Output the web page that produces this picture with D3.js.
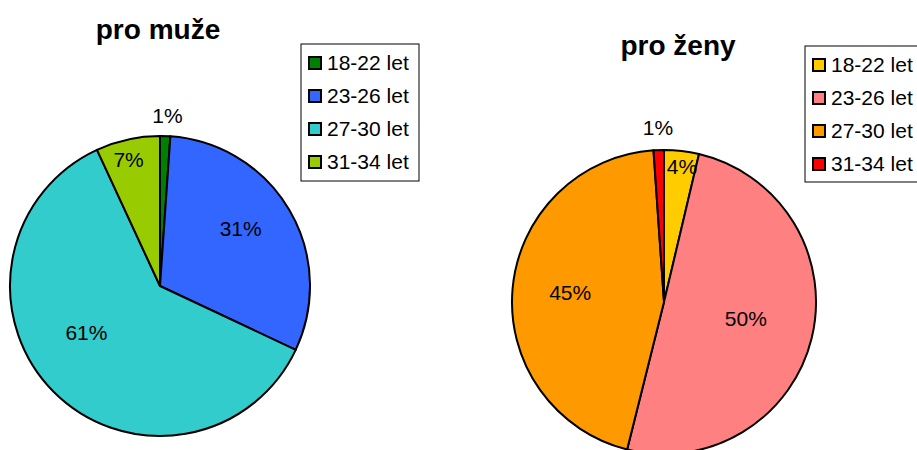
<!DOCTYPE html>
<html>
<head>
<meta charset="utf-8">
<script src="https://cdn.jsdelivr.net/npm/d3@7"></script>
<style>
  body { margin: 0; background: #fff; }
  svg text { font-family: "Liberation Sans", Arial, sans-serif; fill: #000; }
</style>
</head>
<body>
<svg width="917" height="450"></svg>
<script>
// data
const ageGroups = ["18-22 let", "23-26 let", "27-30 let", "31-34 let"];
const menShares = [1.1, 30.9, 61.1, 6.9];
const womenShares = [3.7, 50.2, 45.0, 1.1];
const menColors = ["#008000", "#3366ff", "#33cccc", "#99cc00"];
const womenColors = ["#ffcc00", "#ff8080", "#ff9900", "#ff0000"];

// label placement tweaks: [radius fraction, angle shift in degrees]
const menLabelPlace = [[1.14, 0.5], [0.66, -5], [0.58, 12.6], [0.87, -1.5]];
const womenLabelPlace = [[0.9, 0.9], [0.55, -2], [0.62, 0.5], [1.15, 0]];

const svg = d3.select("svg");

const charts = [
  {title: "pro muže", shares: menShares, colors: menColors, place: menLabelPlace,
   cx: 160, cy: 286, r: 150, titleX: 158, titleY: 39, legX: 301, legY: 44, legW: 118, legH: 137},
  {title: "pro ženy", shares: womenShares, colors: womenColors, place: womenLabelPlace,
   cx: 664, cy: 302, r: 152, titleX: 678, titleY: 55, legX: 805, legY: 46, legW: 122, legH: 136}
];

charts.forEach(function(c) {
  const pie = d3.pie().sort(null).value(function(d) { return d; });
  const arcs = pie(c.shares);
  const arc = d3.arc().innerRadius(0).outerRadius(c.r);

  const g = svg.append("g")
      .attr("transform", `translate(${c.cx},${c.cy})`);

  g.selectAll("path")
    .data(arcs)
    .enter().append("path")
      .attr("d", arc)
      .attr("fill", function(d, i) { return c.colors[i]; })
      .attr("stroke", "#000")
      .attr("stroke-width", 2)
      .attr("stroke-linejoin", "round");

  // percent labels
  g.selectAll("text.pct")
    .data(arcs)
    .enter().append("text")
      .attr("class", "pct")
      .attr("x", function(d, i) {
        const a = (d.startAngle + d.endAngle) / 2 + c.place[i][1] * Math.PI / 180;
        return Math.sin(a) * c.r * c.place[i][0];
      })
      .attr("y", function(d, i) {
        const a = (d.startAngle + d.endAngle) / 2 + c.place[i][1] * Math.PI / 180;
        return -Math.cos(a) * c.r * c.place[i][0];
      })
      .attr("dy", "0.35em")
      .attr("text-anchor", "middle")
      .style("font-size", "21px")
      .text(function(d) { return Math.round(d.data) + "%"; });

  // title
  svg.append("text")
      .attr("x", c.titleX)
      .attr("y", c.titleY)
      .attr("text-anchor", "middle")
      .style("font-size", "28px")
      .style("font-weight", "bold")
      .text(c.title);

  // legend
  const leg = svg.append("g")
      .attr("transform", `translate(${c.legX},${c.legY})`);

  leg.append("rect")
      .attr("width", c.legW)
      .attr("height", c.legH)
      .attr("fill", "#fff")
      .attr("stroke", "#000")
      .attr("stroke-width", 1);

  const rowH = 33;
  const item = leg.selectAll("g.item")
    .data(ageGroups)
    .enter().append("g")
      .attr("class", "item")
      .attr("transform", function(d, i) { return `translate(0,${19 + i * rowH})`; });

  item.append("rect")
      .attr("x", 8)
      .attr("y", -6)
      .attr("width", 12)
      .attr("height", 12)
      .attr("fill", function(d, i) { return c.colors[i]; })
      .attr("stroke", "#000")
      .attr("stroke-width", 2);

  item.append("text")
      .attr("x", 26)
      .attr("dy", "0.35em")
      .style("font-size", "21px")
      .text(function(d) { return d; });
});
</script>
</body>
</html>
